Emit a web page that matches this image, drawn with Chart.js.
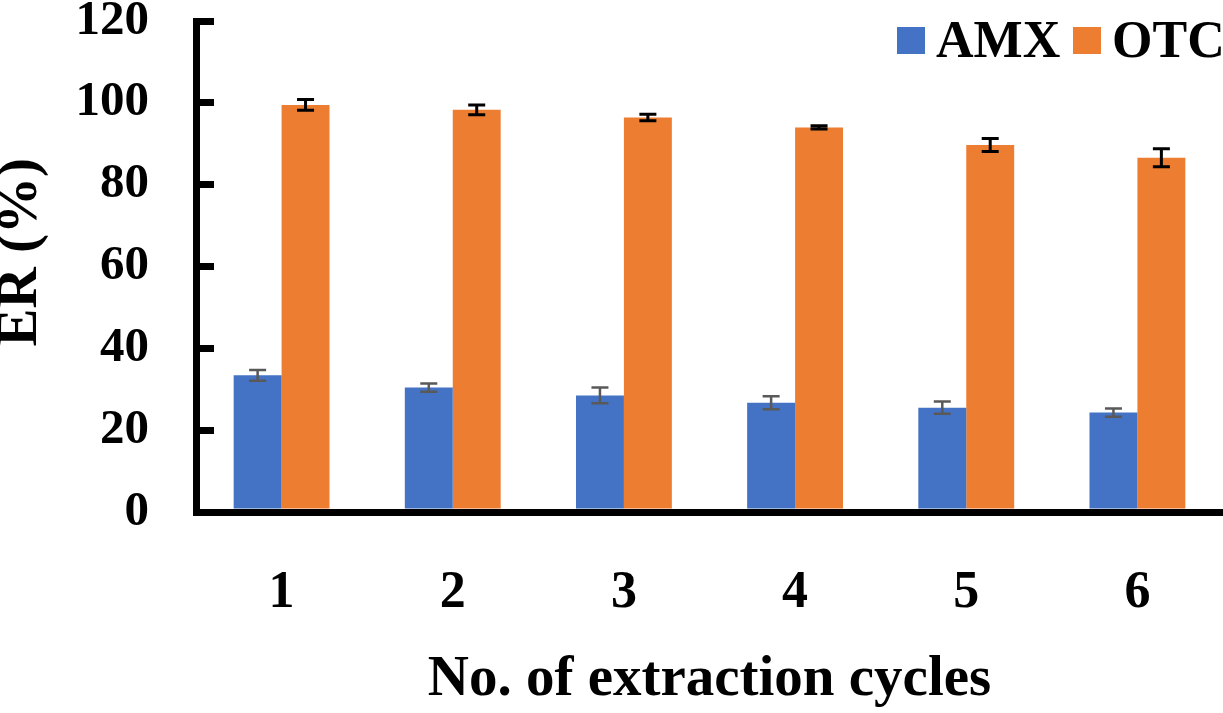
<!DOCTYPE html>
<html>
<head>
<meta charset="utf-8">
<title>ER (%) vs extraction cycles</title>
<script src="https://cdn.jsdelivr.net/npm/chart.js@4/dist/chart.umd.min.js"></script>
<style>
    html, body { margin: 0; padding: 0; background: #ffffff; }
    #chart-box { width: 1223px; height: 713px; position: relative; }
</style>
</head>
<body>
<div id="chart-box"><canvas id="er-chart"></canvas></div>
<script>
/****************************************************************
 * ER (%) of AMX and OTC over repeated extraction cycles
 ***************************************************************/

const cycles = ['1', '2', '3', '4', '5', '6'];
const amx_values = [33.4, 30.4, 28.5, 26.7, 25.5, 24.3];
const amx_errors = [1.3, 1.0, 1.9, 1.6, 1.5, 1.0];
const otc_values = [99.5, 98.3, 96.4, 94.0, 89.7, 86.6];
const otc_errors = [1.3, 1.2, 0.8, 0.4, 1.6, 2.2];
const y_ticks = [0, 20, 40, 60, 80, 100, 120];

const font_family = "'Liberation Serif', 'Times New Roman', serif";

/**
 * Draw error bars on top of every bar, using the y scale
 */
const error_bars = {
    id: 'error_bars',
    afterDatasetsDraw(chart) {
        const ctx = chart.ctx;
        const y_scale = chart.scales.y;

        chart.data.datasets.forEach((dataset, i) => {
            const meta = chart.getDatasetMeta(i);

            meta.data.forEach((bar, j) => {
                const value = dataset.data[j];
                const err = dataset.errors[j];
                const y_hi = y_scale.getPixelForValue(value + err);
                const y_lo = y_scale.getPixelForValue(value - err);
                const half = 8.5;

                ctx.save();
                ctx.strokeStyle = dataset.errorColor;
                ctx.lineWidth = dataset.errorWidth;
                ctx.beginPath();
                ctx.moveTo(bar.x, y_hi);
                ctx.lineTo(bar.x, y_lo);
                ctx.moveTo(bar.x - half, y_hi);
                ctx.lineTo(bar.x + half, y_hi);
                ctx.moveTo(bar.x - half, y_lo);
                ctx.lineTo(bar.x + half, y_lo);
                ctx.stroke();
                ctx.restore();
            });
        });
    }
};

/**
 * Legend drawn inside the top right corner of the plot
 */
const inner_legend = {
    id: 'inner_legend',
    afterDraw(chart) {
        const ctx = chart.ctx;
        const starts = [897, 1073];

        ctx.save();
        ctx.font = 'bold 52px ' + font_family;
        ctx.textBaseline = 'alphabetic';
        ctx.textAlign = 'left';

        chart.data.datasets.forEach((dataset, i) => {
            const x = starts[i];
            ctx.fillStyle = dataset.backgroundColor;
            ctx.fillRect(x, 27, 28, 27);
            ctx.fillStyle = '#000000';
            ctx.fillText(dataset.label, x + 39, 57);
        });

        ctx.restore();
    }
};

new Chart(document.getElementById('er-chart').getContext('2d'), {
    type: 'bar',
    data: {
        labels: cycles,
        datasets: [
            {
                label: 'AMX',
                data: amx_values,
                errors: amx_errors,
                backgroundColor: '#4472c4',
                errorColor: '#595959',
                errorWidth: 2.5,
                categoryPercentage: 0.56,
                barPercentage: 1.0
            },
            {
                label: 'OTC',
                data: otc_values,
                errors: otc_errors,
                backgroundColor: '#ed7d31',
                errorColor: '#000000',
                errorWidth: 3,
                categoryPercentage: 0.56,
                barPercentage: 1.0
            }
        ]
    },
    options: {
        responsive: true,
        maintainAspectRatio: false,
        animation: false,
        layout: { padding: { top: 21, right: 0, bottom: 0, left: 0 } },
        scales: {
            x: {
                grid: { display: false },
                border: { display: true, color: '#000000', width: 7 },
                ticks: {
                    color: '#000000',
                    padding: 42,
                    font: { family: font_family, size: 52, weight: 'bold' }
                },
                title: {
                    display: true,
                    text: 'No. of extraction cycles',
                    color: '#000000',
                    padding: 4,
                    font: { family: font_family, size: 57, weight: 'bold', lineHeight: 1 }
                },
                afterFit(scale) {
                    scale.height = 201;
                    scale.paddingLeft = 0;
                    scale.paddingRight = 0;
                }
            },
            y: {
                min: 0,
                max: 120,
                afterBuildTicks(scale) {
                    scale.ticks = y_ticks.map(v => ({ value: v }));
                },
                grid: {
                    display: true,
                    drawOnChartArea: false,
                    drawTicks: true,
                    tickLength: -18,
                    tickColor: '#000000',
                    tickWidth: 7,
                    lineWidth: 7
                },
                border: { display: true, color: '#000000', width: 7 },
                ticks: {
                    color: '#000000',
                    padding: 65,
                    font: { family: font_family, size: 49, weight: 'bold', lineHeight: 0.8 }
                },
                title: {
                    display: true,
                    // leading en space nudges the rotated title up a little
                    text: '\u2002ER (%)',
                    color: '#000000',
                    padding: 2,
                    font: { family: font_family, size: 57, weight: 'bold', lineHeight: 0.66 }
                },
                afterFit(scale) {
                    scale.width = 196;
                    scale.paddingTop = 0;
                    scale.paddingBottom = 0;
                }
            }
        },
        plugins: {
            legend: { display: false },
            tooltip: { enabled: false }
        }
    },
    plugins: [error_bars, inner_legend]
});
</script>
</body>
</html>
